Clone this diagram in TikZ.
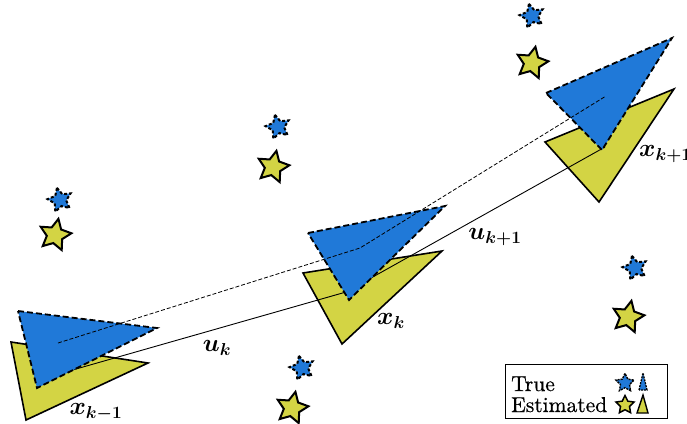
\documentclass[tikz,border=0pt]{standalone}
\usepackage{fontspec}
\usetikzlibrary{shapes.geometric}
\newfontfamily\legfont{lmroman10-regular}[Extension=.otf,FakeBold=0.6]
\definecolor{tblue}{RGB}{32,121,216}
\definecolor{tyel}{RGB}{211,212,68}
\begin{document}
\begin{tikzpicture}[x=1pt,y=-1pt,
  est/.style={fill=tyel,draw=black,line width=1.6pt,line join=miter},
  tru/.style={fill=tblue,draw=black,line width=1.8pt,dash pattern=on 6pt off 3pt},
  starbase/.style={star,star points=5,star point ratio=2.0,inner sep=0pt,line width=2pt,draw=black},
  tstar/.style={starbase,minimum size=25pt,fill=tblue,dash pattern=on 3pt off 2pt},
  estar/.style={starbase,minimum size=33pt,fill=tyel},
  lab/.style={font=\fontsize{23.5}{28}\selectfont\boldmath,inner sep=0pt},
  legtext/.style={font=\legfont\fontsize{21.5}{26}\selectfont,inner sep=0pt,anchor=base west},
  solidpath/.style={draw=black,line width=0.9pt},
  dashpath/.style={draw=black,line width=0.8pt,dash pattern=on 4pt off 2pt}
]
\useasboundingbox (0,0) rectangle (687,423);

% estimated poses
\draw[est] (11,342) -- (148,363) -- (26,420) -- cycle;
\draw[est] (303,273) -- (442,251) -- (342,344) -- cycle;
\draw[est] (545,142) -- (674,89) -- (599,202) -- cycle;

% estimated path
\coordinate (e1) at (62,373);
\coordinate (e2) at (346,292);
\coordinate (e3) at (605,147);
\draw[solidpath] (e1) -- (e2) -- (e3);

% true poses
\draw[tru] (18,311) -- (157,328) -- (37,388) -- cycle;
\draw[tru] (308,233) -- (445,206) -- (349,300) -- cycle;
\draw[tru] (546,93) -- (672,38) -- (602,150) -- cycle;

% true path
\coordinate (t1) at (58,343);
\coordinate (t2) at (360,248);
\coordinate (t3) at (606,96);
\draw[dashpath] (t1) -- (t2) -- (t3);

% landmarks
\node[tstar,rotate=14] (tl1) at (60,200) {};
\node[estar,rotate=-12] (el1) at (55,235) {};
\node[tstar,rotate=14] (tl2) at (278,127) {};
\node[estar,rotate=-12] (el2) at (273,167) {};
\node[tstar,rotate=14] (tl3) at (532,16) {};
\node[estar,rotate=-12] (el3) at (532,63) {};
\node[tstar,rotate=14] (tl4) at (635,268) {};
\node[estar,rotate=-12] (el4) at (628,317) {};
\node[tstar,rotate=14] (tl5) at (302,368) {};
\node[estar,rotate=-12] (el5) at (292,408) {};

% labels
\node[lab] (xkm) at (96,412) {$x_{k-1}$};
\node[lab] (xk) at (391,321) {$x_k$};
\node[lab,anchor=west] (xkp) at (639,154) {$x_{k+1}$};
\node[lab] (uk) at (217,348) {$u_k$};
\node[lab] (ukp) at (495,237) {$u_{k+1}$};

% legend
\node[draw=black,line width=0.8pt,minimum width=162pt,minimum height=54pt,inner sep=0pt,anchor=north west] (leg) at (505,364) {};
\node[legtext] (ltrue) at (511,391) {True};
\node[legtext] (lest) at (511,412) {Estimated};
\node[starbase,minimum size=19pt,fill=tblue,line width=1.4pt,dash pattern=on 2pt off 1pt] (lts) at (625,383) {};
\node[starbase,minimum size=19pt,fill=tyel,line width=1.5pt] (les) at (625,405) {};
\draw[fill=tblue,draw=black,line width=1.3pt,dash pattern=on 2pt off 1pt] (639,390) -- (643,373) -- (647,390) -- cycle;
\draw[est,line width=1.4pt] (637,413) -- (643,395) -- (648,413) -- cycle;
\end{tikzpicture}
\end{document}
